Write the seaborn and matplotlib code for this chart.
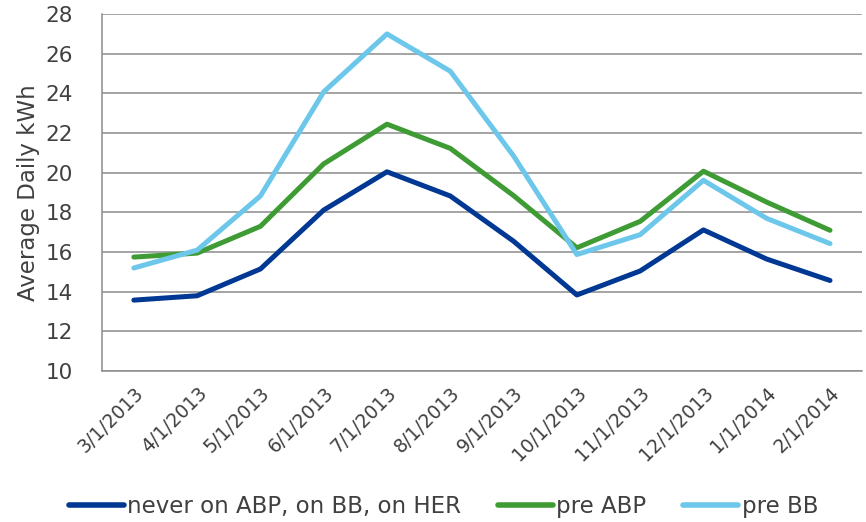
import pandas as pd
import seaborn as sns
import matplotlib.pyplot as plt

months = ["3/1/2013", "4/1/2013", "5/1/2013", "6/1/2013", "7/1/2013", "8/1/2013",
          "9/1/2013", "10/1/2013", "11/1/2013", "12/1/2013", "1/1/2014", "2/1/2014"]
never_abp = [13.58, 13.8, 15.15, 18.12, 20.05, 18.83, 16.55, 13.84, 15.05, 17.12, 15.65, 14.57]
pre_abp = [15.75, 15.95, 17.3, 20.45, 22.45, 21.23, 18.85, 16.22, 17.55, 20.08, 18.52, 17.1]
pre_bb = [15.2, 16.1, 18.83, 24.08, 27.0, 25.12, 20.85, 15.88, 16.88, 19.62, 17.7, 16.43]
series_names = ["never on ABP, on BB, on HER", "pre ABP", "pre BB"]
colors = ["#003893", "#3f9c35", "#6cc7ea"]

df = pd.DataFrame({
    "month": months * 3,
    "kwh": never_abp + pre_abp + pre_bb,
    "series": [series_names[0]] * 12 + [series_names[1]] * 12 + [series_names[2]] * 12,
})

sns.set_style("white")
plt.rcParams["font.family"] = ["DejaVu Sans"]

fig = plt.figure(figsize=(8.66, 5.22), dpi=100)
ax = fig.add_axes([0.118, 0.289, 0.877, 0.684])

sns.lineplot(data=df, x="month", y="kwh", hue="series", palette=colors,
             linewidth=3.6, sort=False, ax=ax, legend=False)

ax.set_ylim(10, 28)
ax.set_xlim(-0.5, 11.5)
ax.set_yticks(range(10, 29, 2))
ax.yaxis.grid(True, color="#8c8c8c", linewidth=1.1)
ax.set_axisbelow(True)

# boundary ticks (major) and centred labels (minor)
ax.set_xticks([i - 0.5 for i in range(13)])
ax.set_xticklabels([])
ax.set_xticks(range(12), minor=True)
ax.set_xticklabels(months, minor=True, rotation=45, ha="right",
                   rotation_mode="anchor", fontsize=13.5, color="#404040")
ax.tick_params(axis="x", which="major", length=6, color="#8c8c8c", width=1.1)
ax.tick_params(axis="x", which="minor", length=0, pad=9)
ax.tick_params(axis="y", length=7, color="#8c8c8c", width=1.1, labelsize=15.5,
               labelcolor="#404040", pad=14)

for s in ["top", "right"]:
    ax.spines[s].set_visible(False)
for s in ["left", "bottom"]:
    ax.spines[s].set_color("#8c8c8c")
    ax.spines[s].set_linewidth(1.1)

ax.set_xlabel("")
ax.set_ylabel("Average Daily kWh", fontsize=16.5, color="#404040", labelpad=4)

handles = [plt.Line2D([], [], color=c, linewidth=4) for c in colors]
fig.legend(handles, series_names, loc="center", bbox_to_anchor=(0.512, 0.03), ncol=3,
           frameon=False, fontsize=16.5, handlelength=2.4, handletextpad=0.15,
           columnspacing=1.6, labelcolor="#404040")

plt.savefig("out.png", dpi=100)
